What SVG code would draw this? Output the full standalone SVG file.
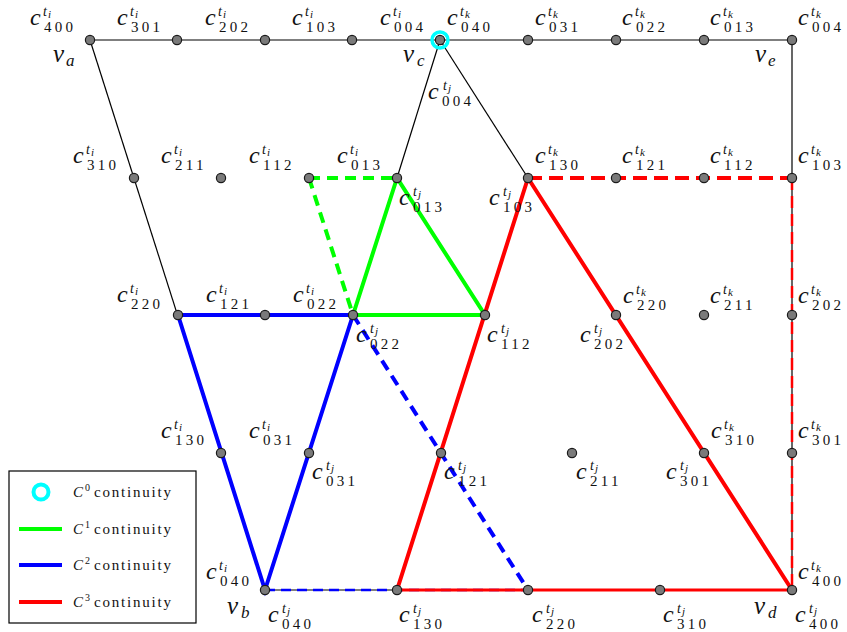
<svg xmlns="http://www.w3.org/2000/svg" width="847" height="632" viewBox="0 0 847 632">
<style>
.bg{fill:#fff}
.thin{stroke:#000;stroke-width:1.2;fill:none}
.g{stroke:#00ff00;stroke-width:4;fill:none;stroke-linecap:round}
.b{stroke:#0000ff;stroke-width:4;fill:none;stroke-linecap:round}
.r{stroke:#ff0000;stroke-width:4;fill:none;stroke-linecap:round}
.gd{stroke:#00ff00;stroke-width:4;fill:none;stroke-dasharray:11 7}
.bd{stroke:#0000ff;stroke-width:4;fill:none;stroke-dasharray:11 7}
.bd2{stroke:#0000ff;stroke-width:2.5;fill:none;stroke-dasharray:10 6}
.rd{stroke:#ff0000;stroke-width:4;fill:none;stroke-dasharray:14 7}
.rd2{stroke:#ff0000;stroke-width:2.5;fill:none;stroke-dasharray:12 6}
.pt{fill:#7a7a7a;stroke:#1a1a1a;stroke-width:1.2}
.ring{fill:none;stroke:#00ffff;stroke-width:3.5}
text{font-family:"Liberation Serif","DejaVu Serif",serif;fill:#111}
.c{font-size:24px;font-style:italic}
.sup{font-size:14px;font-style:italic;letter-spacing:1px}
.ss{font-size:11px}
.sub{font-size:15px;letter-spacing:3.3px}
.v{font-size:25px;font-style:italic}
.vs{font-size:17px;font-style:italic}
.lg{font-size:15px;letter-spacing:1.8px}
.lc{font-size:15px;font-style:italic}
.l0{font-size:10px}
</style>
<defs>
<circle id="p" r="4.6" class="pt"/>
</defs>
<rect class="bg" x="0" y="0" width="847" height="632"/>
<g id="connectors">
<line class="thin" x1="90" y1="40" x2="792" y2="40"/>
<line class="thin" x1="90" y1="40" x2="265" y2="590"/>
<line class="thin" x1="440" y1="40" x2="397" y2="178"/>
<line class="thin" x1="440" y1="40" x2="528" y2="178"/>
<line class="thin" x1="792" y1="40" x2="792" y2="590"/>
<line class="thin" x1="265" y1="590" x2="397" y2="590"/>
<line class="bd2" x1="265" y1="590" x2="528" y2="590"/>
<line class="rd2" x1="792" y1="178" x2="792" y2="590"/>
<line class="rd" x1="528" y1="178" x2="792" y2="178"/>
<line class="gd" x1="309" y1="178" x2="397" y2="178"/>
<line class="gd" x1="309" y1="178" x2="353" y2="315"/>
<line class="bd" x1="353" y1="315" x2="528" y2="590"/>
<polygon class="g" points="397,178 353,315 485,315"/>
<polyline class="b" points="353,315 178,315 265,590 353,315"/>
<line class="r" x1="528" y1="178" x2="397" y2="590"/>
<line class="r" x1="528" y1="178" x2="792" y2="590"/>
<line class="r" x1="397" y1="590" x2="792" y2="590" style="stroke-width:3"/>
</g>
<circle class="ring" cx="440" cy="40" r="8"/>
<g id="n_va"><use href="#p" x="90" y="40"/>
<text class="c" x="30" y="25">c</text><text class="sup" x="43" y="16">t<tspan class="ss" dy="2">i</tspan></text><text class="sub" x="44" y="32">400</text>
<text class="v" x="53" y="62">v</text><text class="vs" x="66" y="66">a</text></g>
<g id="n_t301"><use href="#p" x="177" y="40"/>
<text class="c" x="117" y="25">c</text><text class="sup" x="130" y="16">t<tspan class="ss" dy="2">i</tspan></text><text class="sub" x="131" y="32">301</text></g>
<g id="n_t202"><use href="#p" x="265" y="40"/>
<text class="c" x="205" y="25">c</text><text class="sup" x="218" y="16">t<tspan class="ss" dy="2">i</tspan></text><text class="sub" x="219" y="32">202</text></g>
<g id="n_t103"><use href="#p" x="352" y="40"/>
<text class="c" x="292" y="25">c</text><text class="sup" x="305" y="16">t<tspan class="ss" dy="2">i</tspan></text><text class="sub" x="306" y="32">103</text></g>
<g id="n_vc"><use href="#p" x="440" y="40"/>
<text class="c" x="380" y="25">c</text><text class="sup" x="393" y="16">t<tspan class="ss" dy="2">i</tspan></text><text class="sub" x="394" y="32">004</text>
<text class="c" x="447" y="25">c</text><text class="sup" x="460" y="16">t<tspan class="ss" dy="2">k</tspan></text><text class="sub" x="461" y="32">040</text>
<text class="c" x="428" y="99">c</text><text class="sup" x="443" y="90">t<tspan class="ss" dy="2">j</tspan></text><text class="sub" x="442" y="106">004</text>
<text class="v" x="403" y="62">v</text><text class="vs" x="417" y="66">c</text></g>
<g id="n_k031"><use href="#p" x="528" y="40"/>
<text class="c" x="535" y="25">c</text><text class="sup" x="548" y="16">t<tspan class="ss" dy="2">k</tspan></text><text class="sub" x="549" y="32">031</text></g>
<g id="n_k022"><use href="#p" x="616" y="40"/>
<text class="c" x="622" y="25">c</text><text class="sup" x="635" y="16">t<tspan class="ss" dy="2">k</tspan></text><text class="sub" x="636" y="32">022</text></g>
<g id="n_k013"><use href="#p" x="704" y="40"/>
<text class="c" x="710" y="25">c</text><text class="sup" x="723" y="16">t<tspan class="ss" dy="2">k</tspan></text><text class="sub" x="724" y="32">013</text></g>
<g id="n_ve"><use href="#p" x="792" y="40"/>
<text class="c" x="798" y="25">c</text><text class="sup" x="811" y="16">t<tspan class="ss" dy="2">k</tspan></text><text class="sub" x="812" y="32">004</text>
<text class="v" x="755" y="62">v</text><text class="vs" x="768" y="66">e</text></g>
<g id="n_i310"><use href="#p" x="134" y="178"/>
<text class="c" x="73" y="163">c</text><text class="sup" x="86" y="154">t<tspan class="ss" dy="2">i</tspan></text><text class="sub" x="87" y="170">310</text></g>
<g id="n_i211"><use href="#p" x="221" y="178"/>
<text class="c" x="161" y="163">c</text><text class="sup" x="174" y="154">t<tspan class="ss" dy="2">i</tspan></text><text class="sub" x="175" y="170">211</text></g>
<g id="n_i112"><use href="#p" x="309" y="178"/>
<text class="c" x="249" y="163">c</text><text class="sup" x="262" y="154">t<tspan class="ss" dy="2">i</tspan></text><text class="sub" x="263" y="170">112</text></g>
<g id="n_i013"><use href="#p" x="397" y="178"/>
<text class="c" x="337" y="163">c</text><text class="sup" x="350" y="154">t<tspan class="ss" dy="2">i</tspan></text><text class="sub" x="351" y="170">013</text>
<text class="c" x="399" y="205">c</text><text class="sup" x="413" y="196">t<tspan class="ss" dy="2">j</tspan></text><text class="sub" x="413" y="212">013</text></g>
<g id="n_k130"><use href="#p" x="528" y="178"/>
<text class="c" x="535" y="163">c</text><text class="sup" x="548" y="154">t<tspan class="ss" dy="2">k</tspan></text><text class="sub" x="549" y="170">130</text>
<text class="c" x="489" y="205">c</text><text class="sup" x="503" y="196">t<tspan class="ss" dy="2">j</tspan></text><text class="sub" x="503" y="212">103</text></g>
<g id="n_k121"><use href="#p" x="616" y="178"/>
<text class="c" x="622" y="163">c</text><text class="sup" x="635" y="154">t<tspan class="ss" dy="2">k</tspan></text><text class="sub" x="636" y="170">121</text></g>
<g id="n_k112"><use href="#p" x="704" y="178"/>
<text class="c" x="710" y="163">c</text><text class="sup" x="723" y="154">t<tspan class="ss" dy="2">k</tspan></text><text class="sub" x="724" y="170">112</text></g>
<g id="n_k103"><use href="#p" x="792" y="178"/>
<text class="c" x="798" y="163">c</text><text class="sup" x="811" y="154">t<tspan class="ss" dy="2">k</tspan></text><text class="sub" x="812" y="170">103</text></g>
<g id="n_i220"><use href="#p" x="178" y="315"/>
<text class="c" x="117" y="302">c</text><text class="sup" x="130" y="293">t<tspan class="ss" dy="2">i</tspan></text><text class="sub" x="131" y="309">220</text></g>
<g id="n_i121"><use href="#p" x="265" y="315"/>
<text class="c" x="206" y="302">c</text><text class="sup" x="219" y="293">t<tspan class="ss" dy="2">i</tspan></text><text class="sub" x="220" y="309">121</text></g>
<g id="n_i022"><use href="#p" x="353" y="315"/>
<text class="c" x="293" y="302">c</text><text class="sup" x="306" y="293">t<tspan class="ss" dy="2">i</tspan></text><text class="sub" x="307" y="309">022</text>
<text class="c" x="356" y="342">c</text><text class="sup" x="370" y="333">t<tspan class="ss" dy="2">j</tspan></text><text class="sub" x="370" y="349">022</text></g>
<g id="n_j112"><use href="#p" x="485" y="315"/>
<text class="c" x="487" y="342">c</text><text class="sup" x="501" y="333">t<tspan class="ss" dy="2">j</tspan></text><text class="sub" x="501" y="349">112</text></g>
<g id="n_k220"><use href="#p" x="616" y="315"/>
<text class="c" x="623" y="303">c</text><text class="sup" x="636" y="294">t<tspan class="ss" dy="2">k</tspan></text><text class="sub" x="637" y="310">220</text>
<text class="c" x="580" y="342">c</text><text class="sup" x="594" y="333">t<tspan class="ss" dy="2">j</tspan></text><text class="sub" x="594" y="349">202</text></g>
<g id="n_k211"><use href="#p" x="704" y="315"/>
<text class="c" x="710" y="303">c</text><text class="sup" x="723" y="294">t<tspan class="ss" dy="2">k</tspan></text><text class="sub" x="724" y="310">211</text></g>
<g id="n_k202"><use href="#p" x="792" y="315"/>
<text class="c" x="798" y="303">c</text><text class="sup" x="811" y="294">t<tspan class="ss" dy="2">k</tspan></text><text class="sub" x="812" y="310">202</text></g>
<g id="n_i130"><use href="#p" x="221" y="453"/>
<text class="c" x="161" y="438">c</text><text class="sup" x="174" y="429">t<tspan class="ss" dy="2">i</tspan></text><text class="sub" x="175" y="445">130</text></g>
<g id="n_i031"><use href="#p" x="309" y="453"/>
<text class="c" x="249" y="438">c</text><text class="sup" x="262" y="429">t<tspan class="ss" dy="2">i</tspan></text><text class="sub" x="263" y="445">031</text>
<text class="c" x="312" y="479">c</text><text class="sup" x="326" y="470">t<tspan class="ss" dy="2">j</tspan></text><text class="sub" x="326" y="486">031</text></g>
<g id="n_j121"><use href="#p" x="441" y="453"/>
<text class="c" x="444" y="479">c</text><text class="sup" x="458" y="470">t<tspan class="ss" dy="2">j</tspan></text><text class="sub" x="458" y="486">121</text></g>
<g id="n_j211"><use href="#p" x="572" y="453"/>
<text class="c" x="576" y="479">c</text><text class="sup" x="590" y="470">t<tspan class="ss" dy="2">j</tspan></text><text class="sub" x="590" y="486">211</text></g>
<g id="n_k310"><use href="#p" x="704" y="453"/>
<text class="c" x="711" y="438">c</text><text class="sup" x="724" y="429">t<tspan class="ss" dy="2">k</tspan></text><text class="sub" x="725" y="445">310</text>
<text class="c" x="666" y="479">c</text><text class="sup" x="680" y="470">t<tspan class="ss" dy="2">j</tspan></text><text class="sub" x="680" y="486">301</text></g>
<g id="n_k301"><use href="#p" x="792" y="453"/>
<text class="c" x="798" y="438">c</text><text class="sup" x="811" y="429">t<tspan class="ss" dy="2">k</tspan></text><text class="sub" x="812" y="445">301</text></g>
<g id="n_vb"><use href="#p" x="265" y="590"/>
<text class="c" x="206" y="579">c</text><text class="sup" x="219" y="570">t<tspan class="ss" dy="2">i</tspan></text><text class="sub" x="220" y="586">040</text>
<text class="c" x="268" y="622">c</text><text class="sup" x="282" y="613">t<tspan class="ss" dy="2">j</tspan></text><text class="sub" x="282" y="629">040</text>
<text class="v" x="227" y="614">v</text><text class="vs" x="241" y="618">b</text></g>
<g id="n_j130"><use href="#p" x="397" y="590"/>
<text class="c" x="399" y="622">c</text><text class="sup" x="413" y="613">t<tspan class="ss" dy="2">j</tspan></text><text class="sub" x="413" y="629">130</text></g>
<g id="n_j220"><use href="#p" x="528" y="590"/>
<text class="c" x="532" y="622">c</text><text class="sup" x="546" y="613">t<tspan class="ss" dy="2">j</tspan></text><text class="sub" x="546" y="629">220</text></g>
<g id="n_j310"><use href="#p" x="660" y="590"/>
<text class="c" x="663" y="622">c</text><text class="sup" x="677" y="613">t<tspan class="ss" dy="2">j</tspan></text><text class="sub" x="677" y="629">310</text></g>
<g id="n_vd"><use href="#p" x="792" y="590"/>
<text class="c" x="798" y="579">c</text><text class="sup" x="811" y="570">t<tspan class="ss" dy="2">k</tspan></text><text class="sub" x="812" y="586">400</text>
<text class="c" x="795" y="622">c</text><text class="sup" x="809" y="613">t<tspan class="ss" dy="2">j</tspan></text><text class="sub" x="809" y="629">400</text>
<text class="v" x="754" y="614">v</text><text class="vs" x="768" y="618">d</text></g>
<g id="legend">
<rect x="9" y="471" width="187" height="152" fill="#fff" stroke="#000" stroke-width="1.2"/>
<circle class="ring" cx="41" cy="492" r="7.5" style="stroke-width:4"/>
<text x="73" y="497"><tspan class="lc">C</tspan><tspan class="l0" dy="-6" dx="2">0</tspan><tspan class="lg" dy="6" dx="4">continuity</tspan></text>
<line class="g" x1="19" y1="529" x2="62" y2="529" style="stroke-linecap:butt"/>
<text x="73" y="534"><tspan class="lc">C</tspan><tspan class="l0" dy="-6" dx="2">1</tspan><tspan class="lg" dy="6" dx="4">continuity</tspan></text>
<line class="b" x1="19" y1="565" x2="62" y2="565" style="stroke-linecap:butt"/>
<text x="73" y="570"><tspan class="lc">C</tspan><tspan class="l0" dy="-6" dx="2">2</tspan><tspan class="lg" dy="6" dx="4">continuity</tspan></text>
<line class="r" x1="19" y1="602" x2="62" y2="602" style="stroke-linecap:butt"/>
<text x="73" y="607"><tspan class="lc">C</tspan><tspan class="l0" dy="-6" dx="2">3</tspan><tspan class="lg" dy="6" dx="4">continuity</tspan></text>
</g>
</svg>
